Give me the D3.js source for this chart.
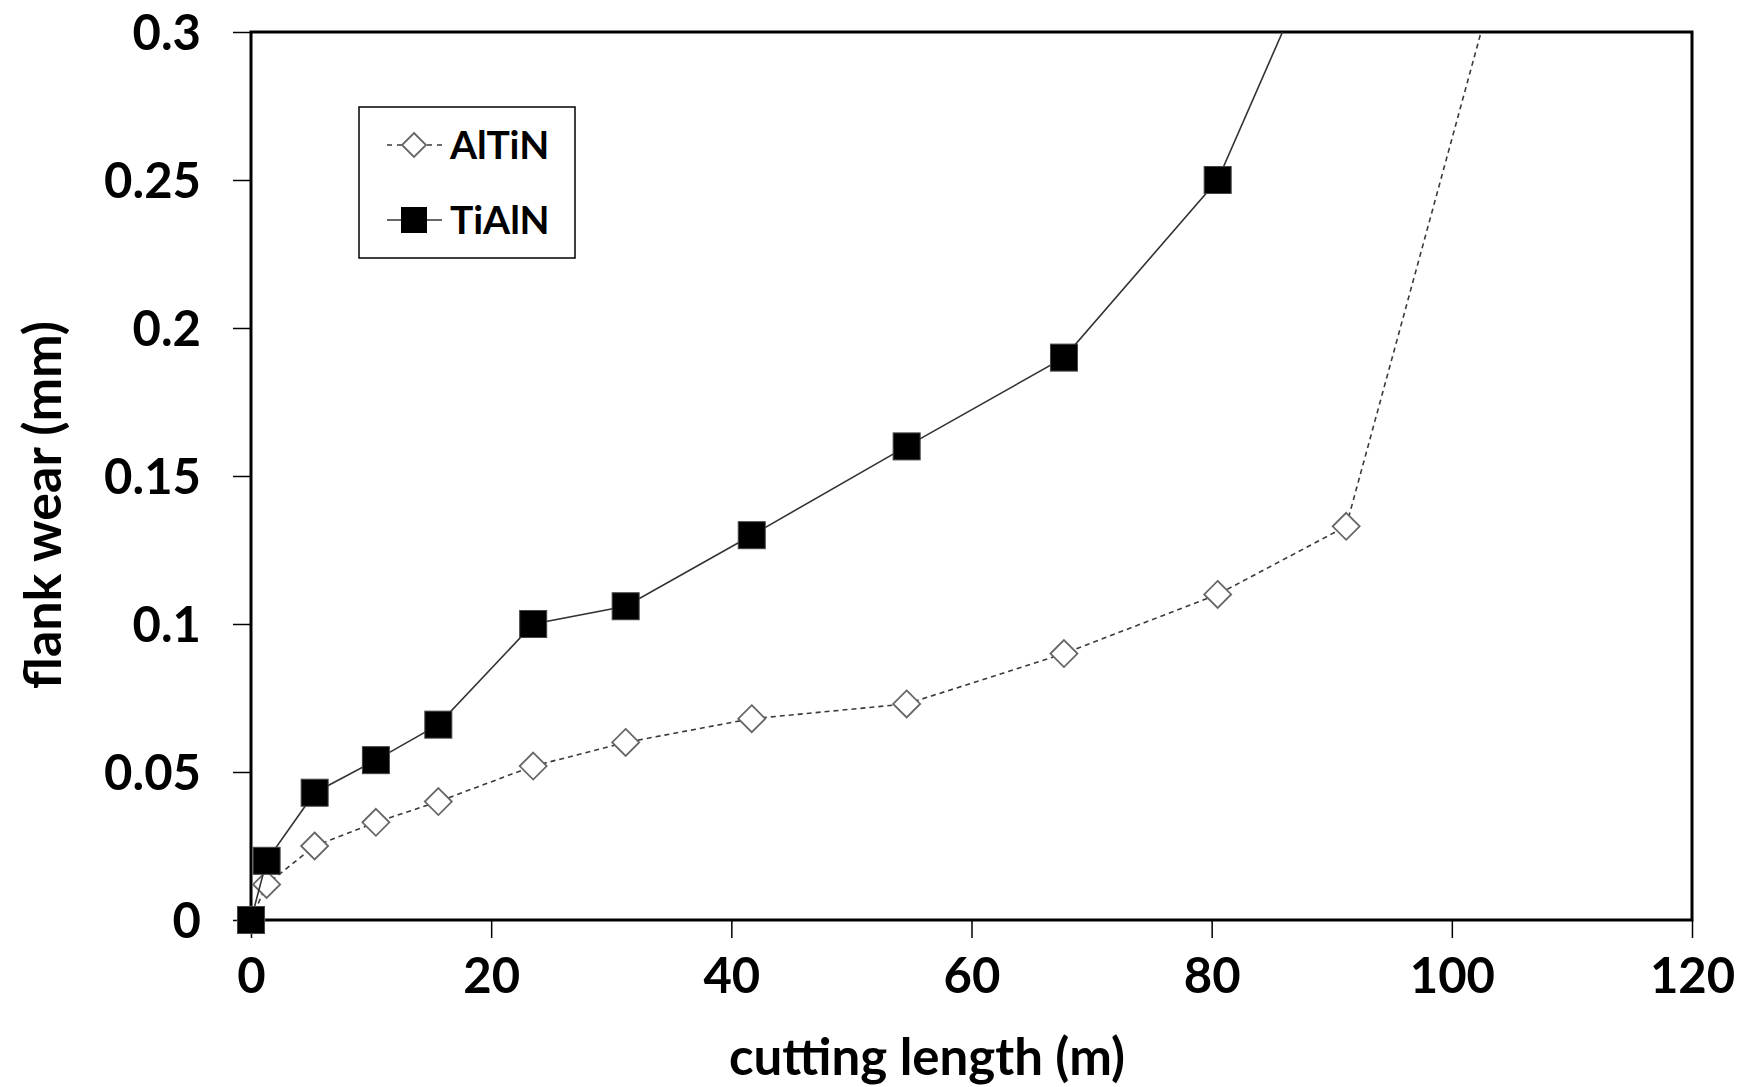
<!DOCTYPE html>
<html>
<head>
<meta charset="utf-8">
<script src="https://cdn.jsdelivr.net/npm/d3@7"></script>
<style>
  body { margin: 0; background: #fff; }
  svg text { font-family: Lato, "Open Sans", sans-serif; font-weight: bold; fill: #000; }
</style>
</head>
<body>
<svg></svg>
<script>
// data
let altinLength = [0, 1.3, 5.3, 10.4, 15.6, 23.5, 31.2, 41.7, 54.6, 67.7, 80.5, 91.2, 105.8];
let altinWear = [0, 0.012, 0.025, 0.033, 0.04, 0.052, 0.06, 0.068, 0.073, 0.09, 0.11, 0.133, 0.35];
let tialnLength = [0, 1.3, 5.3, 10.4, 15.6, 23.5, 31.2, 41.7, 54.6, 67.7, 80.5, 91.3];
let tialnWear = [0, 0.02, 0.043, 0.054, 0.066, 0.1, 0.106, 0.13, 0.16, 0.19, 0.25, 0.35];
let xTicks = [0, 20, 40, 60, 80, 100, 120];
let yTicks = [0, 0.05, 0.1, 0.15, 0.2, 0.25, 0.3];
let seriesNames = ["AlTiN", "TiAlN"];

let width = 1741;
let height = 1087;
let plotLeft = 251, plotRight = 1692, plotTop = 32, plotBottom = 920;

let svg = d3.select("svg").attr("width", width).attr("height", height);

let xScale = d3.scaleLinear().domain([0, 120]).range([plotLeft, plotRight]);
let yScale = d3.scaleLinear().domain([0, 0.3]).range([plotBottom, plotTop]);

// clip for the lines
svg.append("clipPath").attr("id", "plotClip")
  .append("rect")
  .attr("x", plotLeft).attr("y", plotTop)
  .attr("width", plotRight - plotLeft).attr("height", plotBottom - plotTop);

// axes
let xAxis = d3.axisBottom(xScale).tickValues(xTicks).tickSize(18).tickSizeOuter(0).tickPadding(20)
  .tickFormat(d3.format("d"));
let yAxis = d3.axisLeft(yScale).tickValues(yTicks).tickSize(18).tickSizeOuter(0).tickPadding(32)
  .tickFormat((d) => (d === 0 ? "0" : String(+d.toFixed(2))));

let gx = svg.append("g").attr("transform", "translate(0," + plotBottom + ")").call(xAxis);
let gy = svg.append("g").attr("transform", "translate(" + plotLeft + ",0)").call(yAxis);
[gx, gy].forEach((g) => {
  g.select(".domain").remove();
  g.selectAll(".tick line").attr("stroke", "#000").attr("stroke-width", 1.5);
  g.selectAll(".tick text").style("font-size", "49px").attr("fill", "#000");
});
gy.selectAll(".tick text").attr("dy", "0.35em");

// frame
svg.append("rect")
  .attr("x", plotLeft).attr("y", plotTop)
  .attr("width", plotRight - plotLeft).attr("height", plotBottom - plotTop)
  .attr("fill", "none").attr("stroke", "#000").attr("stroke-width", 3);

// axis titles
svg.append("text")
  .attr("x", 927).attr("y", 1075)
  .attr("text-anchor", "middle")
  .style("font-size", "51px")
  .text("cutting length (m)");
svg.append("text")
  .attr("transform", "translate(61," + 505 + ") rotate(-90)")
  .attr("text-anchor", "middle")
  .style("font-size", "52px")
  .text("flank wear (mm)");

let altin = altinLength.map((x, i) => [x, altinWear[i]]);
let tialn = tialnLength.map((x, i) => [x, tialnWear[i]]);

let line = d3.line().x((d) => xScale(d[0])).y((d) => yScale(d[1]));

// AlTiN dashed line + diamonds
svg.append("path")
  .datum(altin)
  .attr("clip-path", "url(#plotClip)")
  .attr("d", line)
  .attr("fill", "none")
  .attr("stroke", "#3a3a3a")
  .attr("stroke-width", 1.6)
  .attr("stroke-dasharray", "5,4");

let diamond = (r) => "M0," + -r + "L" + r + ",0L0," + r + "L" + -r + ",0Z";

svg.selectAll(".altin")
  .data(altin.filter((d) => d[1] <= 0.3))
  .enter()
  .append("path")
  .attr("class", "altin")
  .attr("transform", (d) => "translate(" + xScale(d[0]) + "," + yScale(d[1]) + ")")
  .attr("d", diamond(13.5))
  .attr("fill", "#fff")
  .attr("stroke", "#666")
  .attr("stroke-width", 1.8);

// TiAlN solid line + squares
svg.append("path")
  .datum(tialn)
  .attr("clip-path", "url(#plotClip)")
  .attr("d", line)
  .attr("fill", "none")
  .attr("stroke", "#333")
  .attr("stroke-width", 1.6);

let sq = 27;
svg.selectAll(".tialn")
  .data(tialn.filter((d) => d[1] <= 0.3))
  .enter()
  .append("rect")
  .attr("class", "tialn")
  .attr("x", (d) => xScale(d[0]) - sq / 2)
  .attr("y", (d) => yScale(d[1]) - sq / 2)
  .attr("width", sq)
  .attr("height", sq)
  .attr("fill", "#000")
  .attr("stroke", "#444")
  .attr("stroke-width", 1);

// legend
let legend = svg.append("g");
legend.append("rect")
  .attr("x", 359).attr("y", 107)
  .attr("width", 216).attr("height", 151)
  .attr("fill", "#fff").attr("stroke", "#000").attr("stroke-width", 1.5);

let legY = [145, 220];
seriesNames.forEach((name, i) => {
  let y = legY[i];
  let g = legend.append("g");
  if (i === 0) {
    g.append("line").attr("x1", 387).attr("x2", 442).attr("y1", y).attr("y2", y)
      .attr("stroke", "#3a3a3a").attr("stroke-width", 1.6).attr("stroke-dasharray", "5,5");
    g.append("path").attr("transform", "translate(414," + y + ")").attr("d", diamond(12))
      .attr("fill", "#fff").attr("stroke", "#666").attr("stroke-width", 1.8);
  } else {
    g.append("line").attr("x1", 387).attr("x2", 442).attr("y1", y).attr("y2", y)
      .attr("stroke", "#333").attr("stroke-width", 1.6);
    g.append("rect").attr("x", 401).attr("y", y - 13).attr("width", 26).attr("height", 26)
      .attr("fill", "#000");
  }
  g.append("text").attr("x", 450).attr("y", y).attr("dy", "0.36em")
    .style("font-size", "39px").text(name);
});
</script>
</body>
</html>
